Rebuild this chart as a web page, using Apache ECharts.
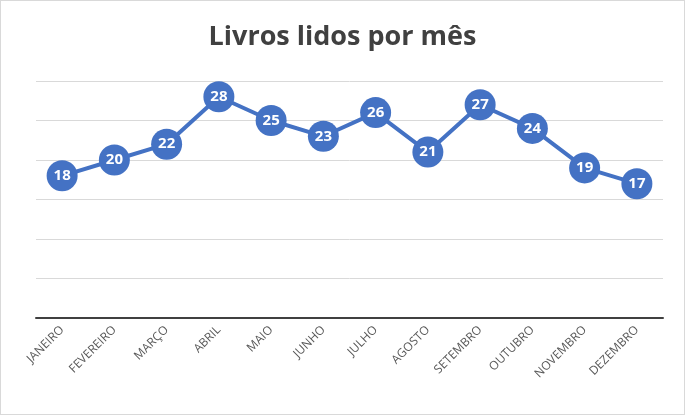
<!DOCTYPE html>
<html><head><meta charset="utf-8">
<script src="https://cdn.jsdelivr.net/npm/echarts@6/dist/echarts.min.js"></script>
<style>html,body{margin:0;padding:0;background:#fff}#c{width:685px;height:415px;box-sizing:border-box;border:1px solid #d9d9d9}</style>
</head><body><div id="c"></div>
<script>
const categories = ["JANEIRO","FEVEREIRO","MARÇO","ABRIL","MAIO","JUNHO","JULHO","AGOSTO","SETEMBRO","OUTUBRO","NOVEMBRO","DEZEMBRO"];
const values = [18,20,22,28,25,23,26,21,27,24,19,17];
const chart = echarts.init(document.getElementById('c'));
chart.setOption({
  animation:false,
  title:{text:'Livros lidos por mês',left:'center',top:18,textStyle:{fontFamily:'Open Sans',fontSize:27,fontWeight:'bold',color:'#404040'}},
  grid:{left:35,right:21,top:80,bottom:96},
  xAxis:{type:'category',data:categories,
    axisLine:{lineStyle:{color:'#404040',width:2}},axisTick:{show:false},
    axisLabel:{rotate:45,color:'#595959',fontSize:12,fontFamily:'Open Sans',interval:0,margin:10}},
  yAxis:{type:'value',min:0,max:30,interval:5,axisLabel:{show:false},
    splitLine:{lineStyle:{color:'#d9d9d9',width:1}}},
  series:[{type:'line',data:values,symbol:'circle',symbolSize:31,
    lineStyle:{color:'#4472C4',width:4},itemStyle:{color:'#4472C4'},
    label:{show:true,position:'inside',color:'#fff',fontWeight:'bold',fontSize:15,fontFamily:'Open Sans'}}]
});
</script></body></html>
